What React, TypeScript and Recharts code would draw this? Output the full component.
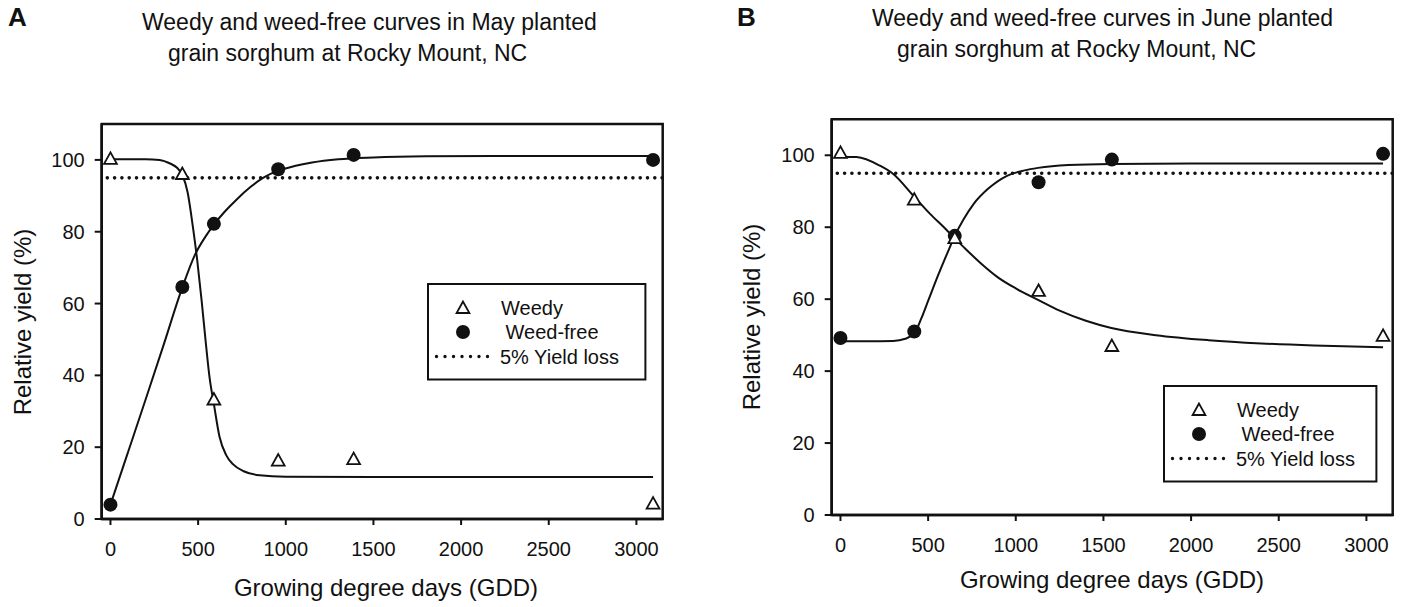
import React from "react";
import {
  ComposedChart,
  Line,
  Scatter,
  XAxis,
  YAxis,
  ReferenceLine,
  ReferenceArea,
} from "recharts";

const FONT = '"Liberation Sans", Arial, Helvetica, sans-serif';
const INK = "#111";

// axis ticks
const xTicks = [0, 500, 1000, 1500, 2000, 2500, 3000];
const yTicks = [0, 20, 40, 60, 80, 100];
const yieldLoss = 95;

// May planted — observed points
const gddA = [0, 410, 590, 957, 1387, 3095];
const weedyA = [100, 95.8, 33, 16, 16.4, 4];
const weedFreeA = [4, 64.6, 82.2, 97.4, 101.4, 100];

// May planted — fitted curves
const weedyFitGddA = [0, 100, 200, 280, 340, 380, 410, 440, 470, 495, 520, 545, 565, 590, 622, 660, 700, 760, 850, 1000, 1500, 2200, 3095];
const weedyFitA = [100.2, 100.2, 100.2, 100, 99, 97.8, 95.8, 91, 81.4, 72, 60.8, 48.5, 39.5, 32, 22.9, 17.8, 15.2, 13.3, 12.2, 11.8, 11.7, 11.7, 11.7];
const weedFreeFitGddA = [0, 100, 200, 300, 410, 481, 540, 590, 650, 720, 800, 870, 957, 1050, 1150, 1300, 1500, 1800, 2400, 3095];
const weedFreeFitA = [4, 18.6, 33.2, 48, 64.5, 73.5, 78.5, 82, 85.5, 89, 92.5, 95, 97, 98.3, 99.3, 100.2, 100.7, 101, 101.1, 101.1];

// June planted — observed points
const gddB = [0, 421, 652, 1130, 1548, 3095];
const weedyB = [100.4, 87.4, 76.7, 62, 46.7, 49.5];
const weedFreeB = [49.2, 51, 77.6, 92.5, 98.8, 100.4];

// June planted — fitted curves
const weedyFitGddB = [0, 92, 225, 301, 415, 511, 600, 652, 700, 800, 900, 1000, 1127, 1250, 1400, 1545, 1800, 2100, 2400, 2700, 3095];
const weedyFitB = [99.6, 99.5, 97.1, 94.8, 88.8, 83.7, 79.5, 76.9, 74.6, 70, 66, 63, 59.8, 56.8, 54, 52, 50, 48.6, 47.7, 47.1, 46.6];
const weedFreeFitGddB = [0, 150, 300, 370, 421, 460, 500, 560, 620, 652, 700, 760, 840, 950, 1050, 1127, 1300, 1545, 2000, 2500, 3095];
const weedFreeFitB = [48.3, 48.3, 48.4, 49, 50.5, 54.5, 59.5, 67, 74, 77.6, 82, 86.5, 90.6, 94.3, 95.8, 96.5, 97.3, 97.6, 97.7, 97.7, 97.7];

const pairs = (xs: number[], ys: number[]) => xs.map((x, i) => ({ x, y: ys[i] }));

const Triangle = (p: any) => (
  <polygon
    points={`${p.cx},${p.cy - 7.5} ${p.cx - 6.4},${p.cy + 4} ${p.cx + 6.4},${p.cy + 4}`}
    fill="#fff"
    stroke={INK}
    strokeWidth={1.8}
  />
);
const Disc = (p: any) => <circle cx={p.cx} cy={p.cy} r={7} fill={INK} />;

function Key({ left, top, width }: { left: number; top: number; width: number }) {
  const h = 97.5;
  return (
    <svg width={width} height={h} style={{ position: "absolute", left, top, overflow: "visible" }}>
      <rect x={1} y={1} width={width - 2} height={h - 2} fill="#fff" stroke={INK} strokeWidth={2} />
      <Triangle cx={36} cy={26} />
      <circle cx={36} cy={49} r={7} fill={INK} />
      <line x1={9.5} x2={61} y1={73.5} y2={73.5} stroke={INK} strokeWidth={3.4} strokeLinecap="round" strokeDasharray="0 8.5" />
      <g fontFamily={FONT} fontSize={20} fill={INK}>
        <text x={74} y={25} dy="0.35em">Weedy</text>
        <text x={78.5} y={48.5} dy="0.35em">Weed-free</text>
        <text x={73} y={73.5} dy="0.35em">5% Yield loss</text>
      </g>
    </svg>
  );
}

interface PanelProps {
  left: number;
  width: number;
  margin: { top: number; right: number; bottom: number; left: number };
  gdd: number[];
  weedy: number[];
  weedFree: number[];
  weedyFit: { x: number; y: number }[];
  weedFreeFit: { x: number; y: number }[];
}

function Panel({ left, width, margin, gdd, weedy, weedFree, weedyFit, weedFreeFit }: PanelProps) {
  const tick = { fill: INK, fontSize: 20, fontFamily: FONT };
  return (
    <div style={{ position: "absolute", left, top: 0 }}>
      <ComposedChart width={width} height={607} margin={margin}>
        <XAxis
          dataKey="x"
          type="number"
          domain={[-50, 3150]}
          ticks={xTicks}
          allowDataOverflow
          height={30}
          tickSize={6}
          tickMargin={17}
          axisLine={{ stroke: INK, strokeWidth: 2.5 }}
          tickLine={{ stroke: INK, strokeWidth: 2 }}
          tick={tick}
        />
        <YAxis
          dataKey="y"
          type="number"
          domain={[0, 110]}
          ticks={yTicks}
          allowDataOverflow
          width={40}
          tickSize={7}
          tickMargin={10}
          axisLine={{ stroke: INK, strokeWidth: 2.5 }}
          tickLine={{ stroke: INK, strokeWidth: 2 }}
          tick={tick}
        />
        <ReferenceArea x1={-50} x2={3150} y1={0} y2={110} fill="none" fillOpacity={0} stroke={INK} strokeWidth={2.5} />
        <ReferenceLine
          segment={[{ x: -18, y: yieldLoss }, { x: 3150, y: yieldLoss }]}
          stroke={INK}
          strokeWidth={3.6}
          strokeLinecap="round"
          strokeDasharray="0 7.3"
        />
        <Line data={weedyFit} dataKey="y" type="monotone" stroke={INK} strokeWidth={2} dot={false} isAnimationActive={false} />
        <Line data={weedFreeFit} dataKey="y" type="monotone" stroke={INK} strokeWidth={2} dot={false} isAnimationActive={false} />
        <Scatter data={pairs(gdd, weedFree)} dataKey="y" shape={Disc} isAnimationActive={false} />
        <Scatter data={pairs(gdd, weedy)} dataKey="y" shape={Triangle} isAnimationActive={false} />
      </ComposedChart>
    </div>
  );
}

const titleLine: React.CSSProperties = {
  position: "absolute",
  fontSize: 23,
  lineHeight: "30.7px",
  whiteSpace: "nowrap",
};
const letterStyle: React.CSSProperties = {
  position: "absolute",
  fontSize: 26,
  fontWeight: "bold",
  lineHeight: "26px",
};
const axisTitle: React.CSSProperties = {
  position: "absolute",
  fontSize: 24,
  lineHeight: "24px",
  whiteSpace: "nowrap",
  transform: "translate(-50%, -50%)",
};

export default function App() {
  return (
    <div
      style={{
        position: "absolute",
        left: 0,
        top: 0,
        width: 1417,
        height: 607,
        background: "#fff",
        color: INK,
        fontFamily: FONT,
        overflow: "hidden",
      }}
    >
      <Panel
        left={0}
        width={720}
        margin={{ top: 124, right: 57.3, bottom: 58, left: 61.7 }}
        gdd={gddA}
        weedy={weedyA}
        weedFree={weedFreeA}
        weedyFit={pairs(weedyFitGddA, weedyFitA)}
        weedFreeFit={pairs(weedFreeFitGddA, weedFreeFitA)}
      />
      <Panel
        left={720}
        width={697}
        margin={{ top: 119.3, right: 24.3, bottom: 62, left: 71.7 }}
        gdd={gddB}
        weedy={weedyB}
        weedFree={weedFreeB}
        weedyFit={pairs(weedyFitGddB, weedyFitB)}
        weedFreeFit={pairs(weedFreeFitGddB, weedFreeFitB)}
      />

      <Key left={427.3} top={283} width={219.4} />
      <Key left={1163.3} top={385} width={214.4} />

      <div style={{ ...letterStyle, left: 8, top: 4 }}>A</div>
      <div style={{ ...letterStyle, left: 737, top: 4 }}>B</div>

      <div style={{ ...titleLine, left: 142, top: 7 }}>Weedy and weed-free curves in May planted</div>
      <div style={{ ...titleLine, left: 168, top: 37.7 }}>grain sorghum at Rocky Mount, NC</div>
      <div style={{ ...titleLine, left: 872, top: 3 }}>Weedy and weed-free curves in June planted</div>
      <div style={{ ...titleLine, left: 897, top: 33.7 }}>grain sorghum at Rocky Mount, NC</div>

      <div style={{ ...axisTitle, left: 386, top: 588 }}>Growing degree days (GDD)</div>
      <div style={{ ...axisTitle, left: 1112, top: 580 }}>Growing degree days (GDD)</div>
      <div style={{ ...axisTitle, left: 22.5, top: 321.5, transform: "translate(-50%, -50%) rotate(-90deg)" }}>
        Relative yield (%)
      </div>
      <div style={{ ...axisTitle, left: 752, top: 317, transform: "translate(-50%, -50%) rotate(-90deg)" }}>
        Relative yield (%)
      </div>
    </div>
  );
}
